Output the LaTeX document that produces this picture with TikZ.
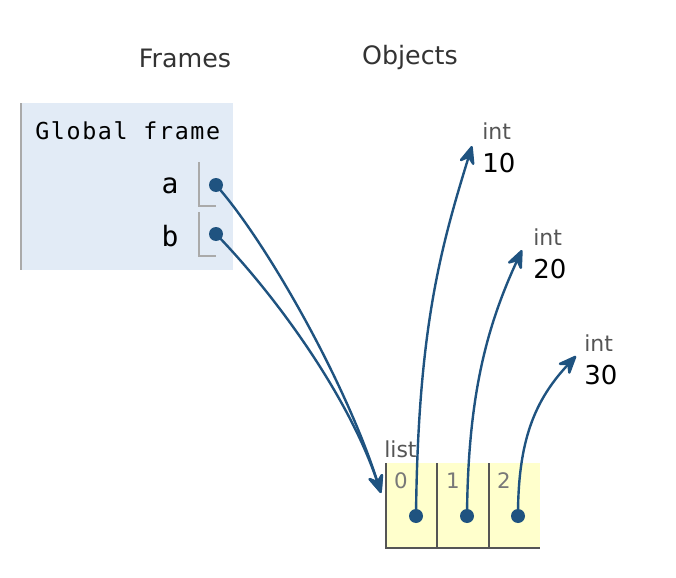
\documentclass[tikz,border=0pt]{standalone}
\usepackage{fontspec}
\setmainfont{DejaVu Sans}
\newfontfamily\monof[LetterSpace=7]{DejaVu Sans Mono}
\newfontfamily\monovar{DejaVu Sans Mono}
\usetikzlibrary{arrows.meta}
\definecolor{framebg}{RGB}{226,235,246}
\definecolor{listbg}{RGB}{255,255,204}
\definecolor{ptr}{RGB}{31,83,128}
\definecolor{hdr}{RGB}{51,51,51}
\definecolor{typ}{RGB}{85,85,85}
\definecolor{idx}{RGB}{120,120,120}
\definecolor{slot}{RGB}{170,170,170}
\definecolor{cellb}{RGB}{85,85,85}
\begin{document}
\begin{tikzpicture}[x=0.75pt,y=-0.75pt,
  hdrtext/.style={text=hdr,font=\fontsize{19}{21}\selectfont,inner sep=0pt},
  vartext/.style={font=\monof\fontsize{17.5}{19}\selectfont,inner sep=0pt},
  nametext/.style={font=\monovar\fontsize{21}{23}\selectfont,inner sep=0pt},
  typtext/.style={text=typ,font=\fontsize{16.5}{18}\selectfont,inner sep=0pt},
  valtext/.style={text=black,font=\fontsize{19.5}{21}\selectfont,inner sep=0pt},
  idxtext/.style={text=idx,font=\fontsize{16}{18}\selectfont,inner sep=0pt},
  dot/.style={circle,fill=ptr,inner sep=0pt,minimum size=10.5pt},
  ptrline/.style={draw=ptr,line width=1.8pt,-{Stealth[length=17pt,width=14pt,inset=6pt,round]}},
  slotline/.style={draw=slot,line width=1.4pt},
  cellline/.style={draw=cellb,line width=2.2pt}]
\useasboundingbox (0,0) rectangle (676,578);
% headers
\node[hdrtext] (frames) at (185,58) {Frames};
\node[hdrtext] (objects) at (410,58) {Objects};
% global frame
\fill[framebg] (20,103) rectangle (233,270);
\draw[slot,line width=2pt] (21,103) -- (21,270);
\node[vartext,anchor=west] (gf) at (35,131) {Global frame};
\node[nametext] (va) at (170,186) {a};
\node[nametext] (vb) at (170,236) {b};
\draw[slotline] (199,162) -- (199,206) -- (216,206);
\draw[slotline] (199,212) -- (199,256) -- (216,256);
\node[dot] (da) at (216,185) {};
\node[dot] (db) at (216,234) {};
% list
\fill[listbg] (386,463) rectangle (540,548);
\draw[cellline] (386,463) -- (386,548) -- (540,548);
\draw[cellline] (437,463) -- (437,548);
\draw[cellline] (489,463) -- (489,548);
\node[typtext,anchor=west] (lst) at (384,449) {list};
\node[idxtext] (i0) at (401,481) {0};
\node[idxtext] (i1) at (453,481) {1};
\node[idxtext] (i2) at (504,481) {2};
\node[dot] (e0) at (416,516) {};
\node[dot] (e1) at (467,516) {};
\node[dot] (e2) at (518,516) {};
\coordinate (lin) at (381,493);
% ints
\node[typtext,anchor=west] (t10) at (482,131) {int};
\node[valtext,anchor=west] (v10) at (482,163) {10};
\node[typtext,anchor=west] (t20) at (533,237) {int};
\node[valtext,anchor=west] (v20) at (533,269) {20};
\node[typtext,anchor=west] (t30) at (584,343) {int};
\node[valtext,anchor=west] (v30) at (584,375) {30};
\coordinate (p10) at (472,146);
\coordinate (p20) at (522,250);
\coordinate (p30) at (576,356);
% pointers
\draw[ptrline] (da.center) .. controls (265,240) and (345,380) .. (lin);
\draw[ptrline] (db.center) .. controls (280,300) and (350,400) .. (lin);
\draw[ptrline] (e0.center) .. controls (418,330) and (440,250) .. (p10);
\draw[ptrline] (e1.center) .. controls (468,400) and (485,330) .. (p20);
\draw[ptrline] (e2.center) .. controls (518,440) and (535,400) .. (p30);
\end{tikzpicture}
\end{document}
